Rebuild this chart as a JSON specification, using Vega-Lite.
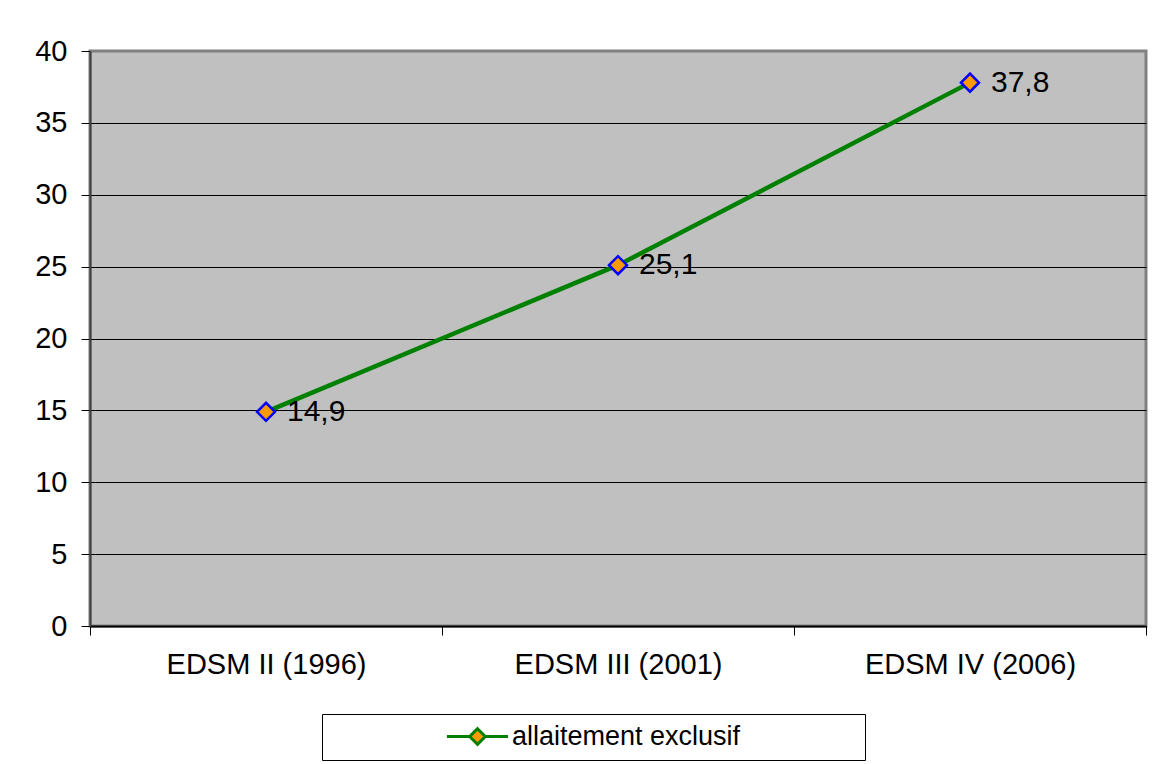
{
  "$schema": "https://vega.github.io/schema/vega-lite/v6.json",
  "width": 1056,
  "height": 575,
  "autosize": {"type": "none"},
  "padding": {"left": 90, "top": 51, "right": 13, "bottom": 138},
  "background": "#ffffff",
  "config": {
    "font": "Liberation Sans",
    "view": {"fill": "#C0C0C0", "stroke": "#808080", "strokeWidth": 3}
  },
  "data": {
    "values": [
      {"enquete": "EDSM II (1996)", "valeur": 14.9, "label": "14,9", "serie": "allaitement exclusif"},
      {"enquete": "EDSM III (2001)", "valeur": 25.1, "label": "25,1", "serie": "allaitement exclusif"},
      {"enquete": "EDSM IV (2006)", "valeur": 37.8, "label": "37,8", "serie": "allaitement exclusif"}
    ]
  },
  "encoding": {
    "x": {
      "field": "enquete",
      "type": "nominal",
      "sort": null,
      "scale": {"type": "band", "paddingInner": 0, "paddingOuter": 0},
      "axis": {
        "title": null,
        "labelAngle": 0,
        "labelFontSize": 29,
        "labelLimit": 0,
        "labelColor": "#000000",
        "labelPadding": 15,
        "tickBand": "extent",
        "tickSize": 9,
        "tickColor": "#000000",
        "domainColor": "#000000",
        "domainWidth": 2,
        "grid": false
      }
    },
    "y": {
      "field": "valeur",
      "type": "quantitative",
      "scale": {"domain": [0, 40], "nice": false},
      "axis": {
        "title": null,
        "values": [0, 5, 10, 15, 20, 25, 30, 35, 40],
        "labelFontSize": 29,
        "labelColor": "#000000",
        "labelPadding": 14,
        "tickSize": 9,
        "tickColor": "#000000",
        "domainColor": "#404040",
        "domainWidth": 2,
        "grid": true,
        "gridColor": {"condition": {"test": "datum.value === 40", "value": "#808080"}, "value": "#000000"},
        "gridWidth": 1,
        "gridOpacity": 1
      }
    }
  },
  "layer": [
    {
      "mark": {"type": "line", "strokeWidth": 4.5},
      "encoding": {
        "color": {
          "field": "serie",
          "type": "nominal",
          "scale": {"range": ["#008000"]},
          "legend": {
            "title": null,
            "orient": "none",
            "legendX": 232,
            "legendY": 663,
            "padding": 9,
            "strokeColor": "#000000",
            "fillColor": "#ffffff",
            "labelFontSize": 27,
            "labelLimit": 0,
            "labelColor": "#000000",
            "symbolType": "M-21.7,0M-4.7,0L-1.2,0M1.2,0L4.7,0M0,-1.2L1.2,0L0,1.2L-1.2,0ZM57.3,0",
            "symbolSize": 169,
            "symbolStrokeWidth": 3,
            "symbolFillColor": "#FF9900",
            "symbolStrokeColor": "#008000",
            "symbolOffset": 133,
            "labelOffset": 21,
            "encode": {
              "symbols": {
                "update": {
                  "fill": {"value": "#FF9900"},
                  "stroke": {"value": "#008000"},
                  "strokeWidth": {"value": 3},
                  "opacity": {"value": 1}
                }
              }
            }
          }
        }
      }
    },
    {
      "mark": {
        "type": "point",
        "shape": "diamond",
        "size": 324,
        "filled": true,
        "fill": "#FF9900",
        "stroke": "#0000FF",
        "strokeWidth": 2.5,
        "opacity": 1
      }
    },
    {
      "mark": {
        "type": "text",
        "align": "left",
        "baseline": "middle",
        "dx": 21,
        "fontSize": 30,
        "color": "#000000"
      },
      "encoding": {"text": {"field": "label"}}
    }
  ]
}
